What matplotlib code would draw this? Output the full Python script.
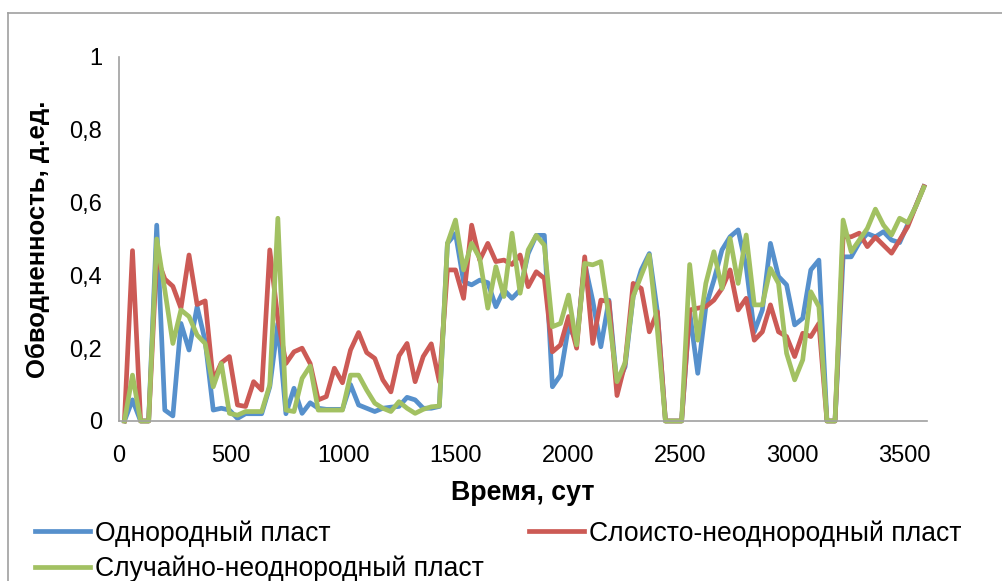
import matplotlib
matplotlib.use('Agg')
import matplotlib.pyplot as plt
from matplotlib.lines import Line2D

plt.rcParams['font.family'] = ['Liberation Sans', 'DejaVu Sans']

# время, сут
days = [24, 60, 96, 132, 168, 204, 240, 276, 312, 348,
        384, 420, 456, 492, 528, 564, 600, 636, 672, 708,
        744, 780, 816, 852, 888, 924, 960, 996, 1032, 1068,
        1104, 1140, 1176, 1212, 1248, 1284, 1320, 1356, 1392, 1428,
        1464, 1500, 1536, 1572, 1608, 1644, 1680, 1716, 1752, 1788,
        1824, 1860, 1896, 1932, 1968, 2004, 2040, 2076, 2112, 2148,
        2184, 2220, 2256, 2292, 2328, 2364, 2400, 2436, 2472, 2508,
        2544, 2580, 2616, 2652, 2688, 2724, 2760, 2796, 2832, 2868,
        2904, 2940, 2976, 3012, 3048, 3084, 3120, 3156, 3192, 3228,
        3264, 3300, 3336, 3372, 3408, 3444, 3480, 3516, 3552, 3588]

# обводненность, д.ед.
homog = [0, 0.058, 0, 0, 0.538, 0.03, 0.014, 0.268, 0.195, 0.314,
         0.22, 0.03, 0.035, 0.03, 0.007, 0.02, 0.02, 0.02, 0.094, 0.268,
         0.02, 0.09, 0.021, 0.05, 0.035, 0.032, 0.032, 0.032, 0.1, 0.044,
         0.035, 0.026, 0.035, 0.038, 0.04, 0.065, 0.058, 0.035, 0.035, 0.04,
         0.488, 0.515, 0.383, 0.374, 0.387, 0.38, 0.314, 0.36, 0.337, 0.36,
         0.46, 0.51, 0.51, 0.094, 0.126, 0.26, 0.22, 0.433, 0.33, 0.204,
         0.332, 0.099, 0.149, 0.342, 0.415, 0.46, 0.3, 0, 0, 0,
         0.3, 0.131, 0.314, 0.387, 0.47, 0.506, 0.525, 0.424, 0.245, 0.305,
         0.488, 0.397, 0.374, 0.264, 0.282, 0.415, 0.442, 0, 0, 0.451,
         0.451, 0.49, 0.515, 0.506, 0.52, 0.497, 0.49, 0.54, 0.59, 0.644]

layered = [0, 0.468, 0, 0, 0.45, 0.39, 0.37, 0.31, 0.456, 0.32,
           0.33, 0.11, 0.16, 0.177, 0.044, 0.04, 0.108, 0.085, 0.47, 0.28,
           0.158, 0.19, 0.2, 0.158, 0.058, 0.067, 0.145, 0.105, 0.195, 0.243,
           0.188, 0.172, 0.113, 0.08, 0.179, 0.213, 0.108, 0.177, 0.212, 0.108,
           0.415, 0.415, 0.337, 0.538, 0.442, 0.488, 0.438, 0.442, 0.43, 0.456,
           0.369, 0.41, 0.392, 0.19, 0.209, 0.287, 0.2, 0.451, 0.213, 0.332,
           0.328, 0.07, 0.158, 0.378, 0.364, 0.245, 0.3, 0, 0, 0,
           0.305, 0.31, 0.314, 0.332, 0.364, 0.415, 0.305, 0.337, 0.222, 0.245,
           0.319, 0.245, 0.232, 0.177, 0.241, 0.232, 0.268, 0, 0, 0.506,
           0.506, 0.516, 0.479, 0.505, 0.483, 0.461, 0.497, 0.534, 0.59, 0.644]

random_het = [0, 0.126, 0, 0, 0.5, 0.36, 0.213, 0.305, 0.287, 0.236,
              0.213, 0.094, 0.158, 0.021, 0.016, 0.026, 0.026, 0.026, 0.099, 0.557,
              0.03, 0.026, 0.117, 0.151, 0.03, 0.03, 0.03, 0.03, 0.126, 0.126,
              0.085, 0.049, 0.035, 0.026, 0.053, 0.035, 0.021, 0.032, 0.039, 0.041,
              0.488, 0.552, 0.415, 0.488, 0.447, 0.31, 0.424, 0.342, 0.516, 0.351,
              0.47, 0.51, 0.483, 0.259, 0.268, 0.346, 0.209, 0.433, 0.429, 0.438,
              0.287, 0.108, 0.16, 0.342, 0.4, 0.456, 0.25, 0, 0, 0,
              0.43, 0.222, 0.378, 0.465, 0.364, 0.502, 0.378, 0.511, 0.319, 0.319,
              0.419, 0.378, 0.186, 0.113, 0.168, 0.355, 0.314, 0, 0, 0.552,
              0.465, 0.497, 0.529, 0.582, 0.538, 0.511, 0.557, 0.545, 0.589, 0.642]

series_names = ['Однородный пласт', 'Слоисто-неоднородный пласт',
                'Случайно-неоднородный пласт']
colors = ['#5690CC', '#CC5A55', '#A2C162']

x_ticks = [0, 500, 1000, 1500, 2000, 2500, 3000, 3500]
y_ticks = [0, 0.2, 0.4, 0.6, 0.8, 1.0]
y_tick_labels = ['0', '0,2', '0,4', '0,6', '0,8', '1']

fig = plt.figure(figsize=(10.02, 5.81), dpi=100)
ax = fig.add_axes([0.1188, 0.2754, 0.8059, 0.6265])

handles = []
for vals, name, c in zip([homog, layered, random_het], series_names, colors):
    h, = ax.plot(days, vals, color=c, lw=3.4, label=name,
                 solid_joinstyle='round', clip_on=False)
    handles.append(h)

ax.set_xlim(0, 3600)
ax.set_ylim(0, 1)
ax.set_xticks(x_ticks)
ax.set_yticks(y_ticks)
ax.set_yticklabels(y_tick_labels)
ax.tick_params(length=0, labelsize=17)
ax.tick_params(axis='x', pad=17)
ax.tick_params(axis='y', pad=12)
for s in ['top', 'right']:
    ax.spines[s].set_visible(False)
for s in ['left', 'bottom']:
    ax.spines[s].set_color('#A0A0A0')
    ax.spines[s].set_linewidth(1.2)

ax.set_xlabel('Время, сут', fontsize=19.3, fontweight='bold', labelpad=10)
ax.set_ylabel('Обводненность, д.ед.', fontsize=18.5, fontweight='bold', labelpad=14)

# порядок как в Excel: по строкам
order = [0, 2, 1]
fig.legend([handles[i] for i in order], [series_names[i] for i in order],
           ncol=2, frameon=False, fontsize=19.1, loc='upper left',
           bbox_to_anchor=(0.0244, 0.123), handlelength=2.07, handletextpad=0.19,
           columnspacing=1.7, labelspacing=0.33, borderaxespad=0)

# рамка области диаграммы
fig.add_artist(Line2D([0.008, 0.008], [0, 0.9776], color='#A0A0A0', lw=1.2))
fig.add_artist(Line2D([0.008, 1.0], [0.9776, 0.9776], color='#A0A0A0', lw=1.2))

fig.savefig('out.png', dpi=100)
